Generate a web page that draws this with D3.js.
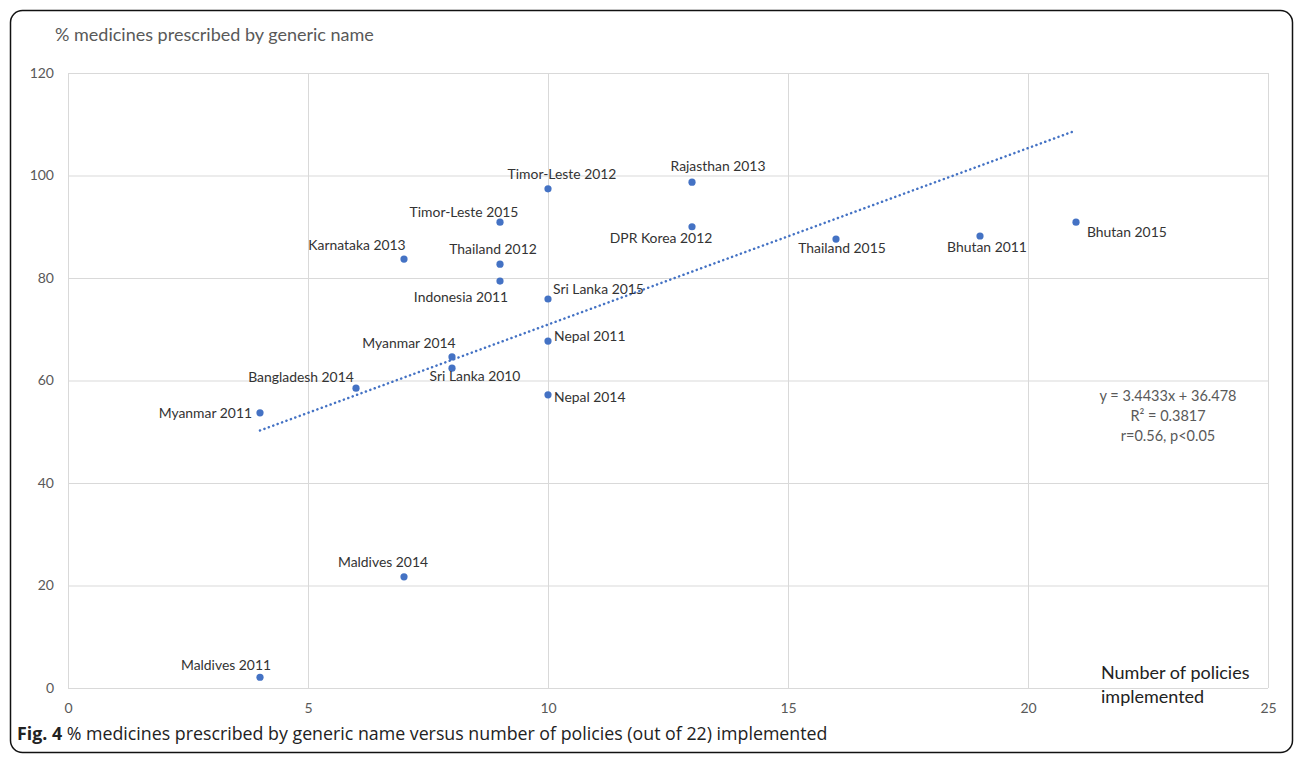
<!DOCTYPE html>
<html>
<head>
<meta charset="utf-8">
<script src="https://cdn.jsdelivr.net/npm/d3@7"></script>
<style>
  html, body { margin: 0; padding: 0; background: #fff; }
  svg { display: block; }
  text { font-family: Lato, "Open Sans", sans-serif; }
</style>
</head>
<body>
<svg id="chart" width="1295" height="758"></svg>
<script>
// Survey observations: country/state and year
const names = ["Myanmar 2011", "Bangladesh 2014", "Karnataka 2013", "Maldives 2014", "Maldives 2011",
  "Myanmar 2014", "Sri Lanka 2010", "Thailand 2012", "Indonesia 2011", "Timor-Leste 2015",
  "Timor-Leste 2012", "Sri Lanka 2015", "Nepal 2011", "Nepal 2014", "Rajasthan 2013",
  "DPR Korea 2012", "Thailand 2015", "Bhutan 2011", "Bhutan 2015"];
// Number of policies implemented (out of 22)
const policies = [4, 6, 7, 7, 4, 8, 8, 9, 9, 9, 10, 10, 10, 10, 13, 13, 16, 19, 21];
// % medicines prescribed by generic name
const genericPct = [53.7, 58.5, 83.7, 21.7, 2.1, 64.6, 62.4, 82.7, 79.4, 90.9,
  97.4, 75.9, 67.7, 57.2, 98.7, 90.0, 87.6, 88.2, 90.9];

const xTicks = [0, 5, 10, 15, 20, 25];
const yTicks = [0, 20, 40, 60, 80, 100, 120];

// Linear trend reported on the chart
const trendSlope = 3.4433;
const trendIntercept = 36.478;
const trendRange = [4, 21];
const statsLines = ["y = 3.4433x + 36.478", "R² = 0.3817", "r=0.56, p<0.05"];

// Label offsets (px) from each marker: [dx, dy of text middle, anchor]
const labelPlacement = {
  "Myanmar 2011": [-8, 0, "end"],
  "Bangladesh 2014": [-55, -11, "middle"],
  "Karnataka 2013": [-47, -14, "middle"],
  "Maldives 2014": [-21, -15, "middle"],
  "Maldives 2011": [-34, -12, "middle"],
  "Myanmar 2014": [-43, -14, "middle"],
  "Sri Lanka 2010": [23, 8, "middle"],
  "Thailand 2012": [-7, -15, "middle"],
  "Indonesia 2011": [-39, 16, "middle"],
  "Timor-Leste 2015": [-36, -10, "middle"],
  "Timor-Leste 2012": [14, -15, "middle"],
  "Sri Lanka 2015": [5, -10, "start"],
  "Nepal 2011": [6, -5, "start"],
  "Nepal 2014": [6, 2, "start"],
  "Rajasthan 2013": [26, -16, "middle"],
  "DPR Korea 2012": [-31, 11, "middle"],
  "Thailand 2015": [6, 9, "middle"],
  "Bhutan 2011": [7, 11, "middle"],
  "Bhutan 2015": [11, 10, "start"]
};

const svg = d3.select("#chart");
const blue = "#4472C4";
const grid = "#d9d9d9";
const tickGray = "#595959";

// Outer frame
svg.append("rect")
  .attr("x", 10.5).attr("y", 10.5)
  .attr("width", 1282).attr("height", 742)
  .attr("rx", 12).attr("ry", 12)
  .attr("fill", "none").attr("stroke", "#111").attr("stroke-width", 1.5);

const x = d3.scaleLinear().domain([0, 25]).range([68, 1268]);
const y = d3.scaleLinear().domain([0, 120]).range([688, 73]);

const plot = svg.append("g");

// Gridlines and tick labels via D3 axes
const xAxis = plot.append("g")
  .attr("transform", `translate(0,${y(0)})`)
  .call(d3.axisBottom(x).tickValues(xTicks).tickSize(-(y(0) - y(120))));
const yAxis = plot.append("g")
  .attr("transform", `translate(${x(0)},0)`)
  .call(d3.axisLeft(y).tickValues(yTicks).tickSize(-(x(25) - x(0))).tickPadding(14));

[xAxis, yAxis].forEach(a => {
  a.select(".domain").remove();
  a.selectAll(".tick line").attr("stroke", grid).attr("stroke-width", 1);
  a.selectAll(".tick text")
    .attr("fill", tickGray)
    .style("font-family", "Lato, 'Open Sans', sans-serif")
    .style("font-size", "14px");
});
xAxis.selectAll(".tick text").attr("y", 15);

// Trend line (dotted)
plot.append("line")
  .attr("x1", x(trendRange[0])).attr("y1", y(trendSlope * trendRange[0] + trendIntercept))
  .attr("x2", x(trendRange[1])).attr("y2", y(trendSlope * trendRange[1] + trendIntercept))
  .attr("stroke", blue).attr("stroke-width", 2.5)
  .attr("stroke-dasharray", "0.1,4.6").attr("stroke-linecap", "round");

const rows = names.map((n, i) => ({ name: n, px: policies[i], py: genericPct[i] }));

// Markers
plot.selectAll("circle.pt").data(rows).enter().append("circle")
  .attr("class", "pt")
  .attr("cx", d => x(d.px)).attr("cy", d => y(d.py))
  .attr("r", 3.6).attr("fill", blue);

// Data labels
plot.selectAll("text.lbl").data(rows).enter().append("text")
  .attr("class", "lbl")
  .attr("x", d => x(d.px) + labelPlacement[d.name][0])
  .attr("y", d => y(d.py) + labelPlacement[d.name][1])
  .attr("dy", "0.35em")
  .attr("text-anchor", d => labelPlacement[d.name][2])
  .attr("fill", "#333")
  .style("font-size", "13.9px")
  .text(d => d.name);

// Y axis title
svg.append("text")
  .attr("x", 55).attr("y", 41)
  .attr("fill", tickGray).style("font-size", "18px")
  .text("% medicines prescribed by generic name");

// X axis title
const xt = svg.append("text").attr("fill", "#222").style("font-size", "18px");
xt.append("tspan").attr("x", 1101).attr("y", 679).text("Number of policies");
xt.append("tspan").attr("x", 1101).attr("y", 703).text("implemented");

// Regression statistics
svg.append("g").selectAll("text").data(statsLines).enter().append("text")
  .attr("x", 1168).attr("y", (d, i) => 401 + i * 20)
  .attr("text-anchor", "middle")
  .attr("fill", tickGray).style("font-size", "14.5px")
  .text(d => d);

// Figure caption
const cap = svg.append("text").attr("x", 17).attr("y", 740)
  .style("font-family", "'Open Sans', sans-serif").style("font-size", "17.8px").attr("fill", "#222");
cap.append("tspan").style("font-weight", "bold").text("Fig. 4");
cap.append("tspan").text(" % medicines prescribed by generic name versus number of policies (out of 22) implemented");
</script>
</body>
</html>
